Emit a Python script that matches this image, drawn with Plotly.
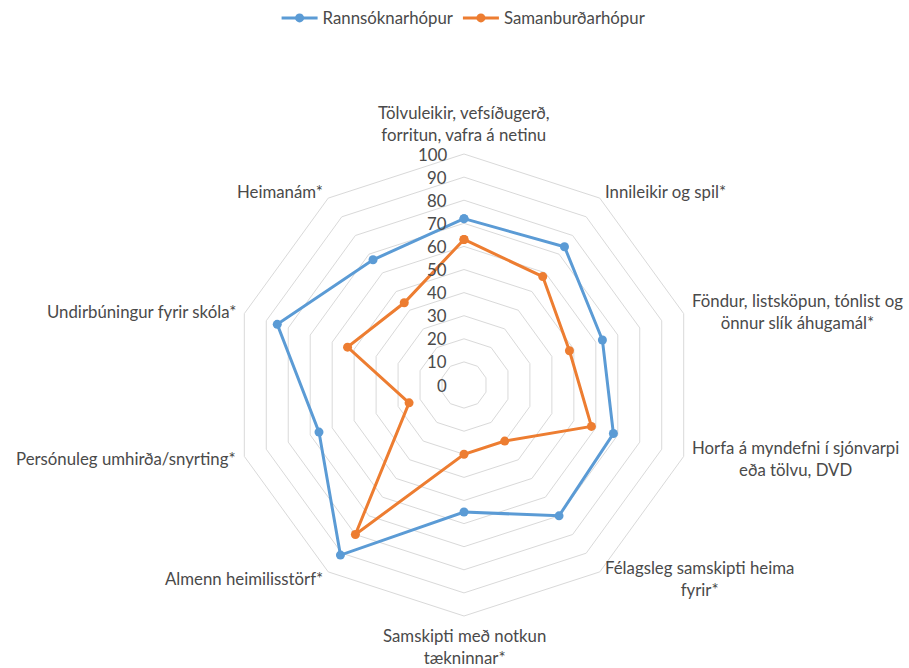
import math
import plotly.graph_objects as go

categories = [
    "Tölvuleikir, vefsíðugerð,<br>forritun, vafra á netinu",
    "Innileikir og spil*",
    "Föndur, listsköpun, tónlist og<br>önnur slík áhugamál*",
    "Horfa á myndefni í sjónvarpi<br>eða tölvu, DVD",
    "Félagsleg samskipti heima<br>fyrir*",
    "Samskipti með notkun<br>tækninnar*",
    "Almenn heimilisstörf*",
    "Persónuleg umhirða/snyrting*",
    "Undirbúningur fyrir skóla*",
    "Heimanám*",
]
rannsokn = [72, 74, 63, 68, 70, 55, 91, 66, 85, 67]
samanburdur = [63, 58, 48, 58, 30, 30, 80, 25, 53, 44]
series_names = ["Rannsóknarhópur", "Samanburðarhópur"]
radial_ticks = list(range(0, 101, 10))

blue = "#5B9BD5"
orange = "#ED7D31"
txt = "#4a4a4a"
FONT = "Lato"
FS = 16.8

keys = [f"c{i}" for i in range(len(categories))]

fig = go.Figure()
for name, vals, col in [(series_names[0], rannsokn, blue), (series_names[1], samanburdur, orange)]:
    fig.add_trace(go.Scatterpolar(
        r=vals + [vals[0]], theta=keys + [keys[0]], name=name,
        mode="lines+markers",
        line=dict(color=col, width=3),
        marker=dict(color=col, size=9),
    ))

W, H = 909, 668
cx, cy, R = 464, 385, 231
RMAX = 100
fig.update_layout(
    width=W, height=H,
    margin=dict(l=0, r=0, t=0, b=0),
    paper_bgcolor="white", plot_bgcolor="white",
    font=dict(family=FONT, size=FS, color=txt),
    showlegend=True,
    legend=dict(orientation="h", x=0.51, xanchor="center", y=1 - 18 / H, yanchor="middle",
                font=dict(family=FONT, size=FS, color=txt), itemwidth=36),
    polar=dict(
        domain=dict(x=[(cx - R) / W, (cx + R) / W], y=[1 - (cy + R) / H, 1 - (cy - R) / H]),
        bgcolor="white",
        gridshape="linear",
        radialaxis=dict(range=[0, RMAX], tickvals=radial_ticks, angle=90,
                        showticklabels=False,
                        showline=False, gridcolor="#d9d9d9", gridwidth=1, ticks=""),
        angularaxis=dict(rotation=90, direction="clockwise", showgrid=False,
                         showline=True, linecolor="#d9d9d9", linewidth=1,
                         showticklabels=False, ticks="",
                         categoryorder="array", categoryarray=keys),
    ),
)

# radial tick labels, right-aligned left of the vertical axis
for v in radial_ticks:
    y = cy - v / RMAX * R
    fig.add_annotation(x=(cx - 16) / W, y=1 - y / H, xref="paper", yref="paper", text=str(v),
                       showarrow=False, xanchor="right", yanchor="middle", borderpad=0,
                       font=dict(family=FONT, size=FS, color=txt))

# category labels positioned around the radar
n = len(categories)
label_r = R + 8
for i, lab in enumerate(categories):
    ang = math.radians(90 - 360 * i / n)
    x = cx + label_r * math.cos(ang)
    y = cy - label_r * math.sin(ang)
    c = math.cos(ang)
    if abs(c) < 0.1:
        xanchor = "center"
    elif c > 0:
        xanchor = "left"
    else:
        xanchor = "right"
    s = math.sin(ang)
    if s > 0.9:
        yanchor = "bottom"
    elif s < -0.9:
        yanchor = "top"
    else:
        yanchor = "middle"
    fig.add_annotation(x=x / W, y=1 - y / H, xref="paper", yref="paper", text=lab,
                       showarrow=False, xanchor=xanchor, yanchor=yanchor, align="center",
                       borderpad=0, font=dict(family=FONT, size=FS, color=txt))

fig.write_html("out.html", config={"displayModeBar": False},
               post_script="document.body.style.margin='0';")
